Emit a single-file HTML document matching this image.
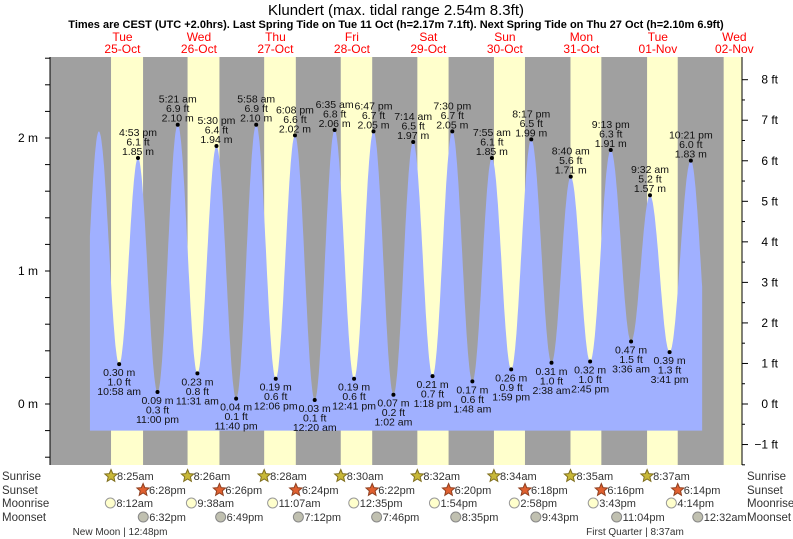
<!DOCTYPE html>
<html><head><meta charset="utf-8"><style>
body{margin:0;background:#fff;}
svg{display:block;font-family:"Liberation Sans",sans-serif;}
</style></head><body>
<svg id="c" width="793" height="539" viewBox="0 0 793 539">
<text x="396" y="15" text-anchor="middle" font-size="15">Klundert (max. tidal range 2.54m 8.3ft)</text>
<text x="396" y="28" text-anchor="middle" font-size="11" font-weight="bold">Times are CEST (UTC +2.0hrs). Last Spring Tide on Tue 11 Oct (h=2.17m 7.1ft). Next Spring Tide on Thu 27 Oct (h=2.10m 6.9ft)</text>
<g id="bg"></g><g id="tide"></g><g id="axes"></g><g id="labels"></g><g id="astro"></g>
</svg>
<script>
const dayNames=["Tue","Wed","Thu","Fri","Sat","Sun","Mon","Tue","Wed"];
const dayDates=["25-Oct","26-Oct","27-Oct","28-Oct","29-Oct","30-Oct","31-Oct","01-Nov","02-Nov"];
const sunriseH=[8.417,8.433,8.467,8.5,8.533,8.567,8.583,8.617,8.65];
const sunsetH=[18.467,18.433,18.4,18.367,18.333,18.3,18.267,18.233,18.2];
const sunriseLbl=["8:25am","8:26am","8:28am","8:30am","8:32am","8:34am","8:35am","8:37am"];
const sunsetLbl=["6:28pm","6:26pm","6:24pm","6:22pm","6:20pm","6:18pm","6:16pm","6:14pm"];
const moonriseH=[8.2,9.633,11.117,12.583,13.9,14.967,15.717,16.233];
const moonriseLbl=["8:12am","9:38am","11:07am","12:35pm","1:54pm","2:58pm","3:43pm","4:14pm"];
const moonsetH=[18.533,18.817,19.2,19.767,20.583,21.717,23.067,24.533];
const moonsetLbl=["6:32pm","6:49pm","7:12pm","7:46pm","8:35pm","9:43pm","11:04pm","12:32am"];
const tideT=[-1.6,4.6,10.97,16.88,23.0,29.35,35.52,41.5,47.67,53.97,60.1,66.13,72.33,78.58,84.68,90.78,97.03,103.23,109.3,115.5,121.8,127.92,133.98,140.28,146.63,152.67,158.75,165.22,171.6,177.53,183.68,190.35,196.5];
const tideM=[0.2,2.05,0.30,1.85,0.09,2.10,0.23,1.94,0.04,2.10,0.19,2.02,0.03,2.06,0.19,2.05,0.07,1.97,0.21,2.05,0.17,1.85,0.26,1.99,0.31,1.71,0.32,1.91,0.47,1.57,0.39,1.83,0.3];
const tideFt=["","","1.0","6.1","0.3","6.9","0.8","6.4","0.1","6.9","0.6","6.6","0.1","6.8","0.6","6.7","0.2","6.5","0.7","6.7","0.6","6.1","0.9","6.5","1.0","5.6","1.0","6.3","1.5","5.2","1.3","6.0",""];
const tideLbl=["","","10:58 am","4:53 pm","11:00 pm","5:21 am","11:31 am","5:30 pm","11:40 pm","5:58 am","12:06 pm","6:08 pm","12:20 am","6:35 am","12:41 pm","6:47 pm","1:02 am","7:14 am","1:18 pm","7:30 pm","1:48 am","7:55 am","1:59 pm","8:17 pm","2:38 am","8:40 am","2:45 pm","9:13 pm","3:36 am","9:32 am","3:41 pm","10:21 pm",""];
const mTicks=[0,1,2];
const ftTicks=[-1,0,1,2,3,4,5,6,7,8];

const NS="http://www.w3.org/2000/svg";
const X0=84.2,PXH=3.187,Y0=404,PXM=133;
const PL=50,PR=742,PT=57,PB=465;
const x=h=>X0+h*PXH, y=m=>Y0-m*PXM;
function mk(tag,attrs,parent,txt){const e=document.createElementNS(NS,tag);for(const k in attrs)e.setAttribute(k,attrs[k]);if(txt!==undefined)e.textContent=txt;parent.appendChild(e);return e;}
const bg=document.getElementById('bg'),tide=document.getElementById('tide'),axes=document.getElementById('axes'),labels=document.getElementById('labels'),astro=document.getElementById('astro');

let r=mk('rect',{x:PL,y:PT,width:PR-PL,height:PB-PT,fill:'#a0a0a0'},bg);


for(let d=0;d<9;d++){
  const a=Math.max(PL,x(d*24+sunriseH[d])),b=Math.min(PR,x(d*24+sunsetH[d]));
  if(b>a){const e=mk('rect',{x:a,y:PT,width:b-a,height:PB-PT,fill:'#ffffcc'},bg);
  
  }
  const cx=x(d*24+12);
  const t1=mk('text',{x:cx,y:41,'text-anchor':'middle','font-size':12,fill:'#ff0000'},labels,dayNames[d]);
  
  
  const t2=mk('text',{x:cx,y:53,'text-anchor':'middle','font-size':12,fill:'#ff0000'},labels,dayDates[d]);
  
  
}
const tS=1.8,tE=193.9;
function hAt(t){for(let i=0;i<tideT.length-1;i++){if(t>=tideT[i]&&t<=tideT[i+1]){const f=(t-tideT[i])/(tideT[i+1]-tideT[i]);return tideM[i]+(tideM[i+1]-tideM[i])*(1-Math.cos(Math.PI*f))/2;}}return 0;}
let d=`M${x(tS)},${y(-0.2)}`;
for(let t=tS;t<=tE;t+=0.2)d+=` L${x(t).toFixed(1)},${y(hAt(t)).toFixed(1)}`;
d+=` L${x(tE)},${y(hAt(tE))} L${x(tE)},${y(-0.2)} Z`;
const p=mk('path',{d:d,fill:'#a0b0ff'},tide);


for(let i=2;i<tideT.length-1;i++){
  const cx=x(tideT[i]),cy=y(tideM[i]);
  const dot=mk('circle',{cx:cx,cy:cy,r:2,fill:'#000'},tide);
  
  
  const high=tideM[i]>1;
  const g=mk('g',{'font-size':10.5,'text-anchor':'middle',fill:'#111'},labels);
  
  
  const lines=high?[tideLbl[i],tideFt[i]+" ft",tideM[i].toFixed(2)+" m"]:[tideM[i].toFixed(2)+" m",tideFt[i]+" ft",tideLbl[i]];
  lines.forEach((s,k)=>{const yy=high?cy-3-(2-k)*9.5:cy+12+k*9.5;mk('text',{x:cx,y:yy},g,s);});
}
let al=mk('line',{x1:PL,y1:PT,x2:PL,y2:PB,stroke:'#000','stroke-width':1},axes);


let ar=mk('line',{x1:PR,y1:PT,x2:PR,y2:PB,stroke:'#000','stroke-width':1},axes);


for(let v=-0.4;v<=2.61;v+=0.2){mk('line',{x1:PL-5,y1:y(v),x2:PL,y2:y(v),stroke:'#000'},axes);}
mTicks.forEach(v=>{const t=mk('text',{x:38,y:y(v)+4,'text-anchor':'end','font-size':12},axes,v+" m");

});
for(let v=-1.5;v<=8.01;v+=0.5){const yy=y(v*0.3048);if(yy<PT)continue;mk('line',{x1:PR,y1:yy,x2:PR+(v%1===0?6:3),y2:yy,stroke:'#000'},axes);}
ftTicks.forEach(v=>{const t=mk('text',{x:778,y:y(v*0.3048)+4,'text-anchor':'end','font-size':12},axes,(v<0?"\u2212"+(-v):v)+" ft");

});
const rows=[["Sunrise",480],["Sunset",494],["Moonrise",507],["Moonset",521]];
rows.forEach(([n,yy])=>{
  const a=mk('text',{x:2,y:yy,'font-size':11.5,fill:'#333'},astro,n);
  
  
  const b=mk('text',{x:747,y:yy,'font-size':11.5,fill:'#333'},astro,n);
  
  
});
function star(cx,cy,fill,stroke){let pts=[];for(let k=0;k<10;k++){const rr=k%2?3:6.5,a=-Math.PI/2+k*Math.PI/5;pts.push((cx+rr*Math.cos(a)).toFixed(1)+","+(cy+rr*Math.sin(a)).toFixed(1));}return mk('polygon',{points:pts.join(' '),fill:fill,stroke:stroke,'stroke-width':1},astro);}
for(let i=0;i<8;i++){
  let cx=x(i*24+sunriseH[i]);
  let s=star(cx,476,'#c8b838','#807020');
  
  
  let t=mk('text',{x:cx+6,y:480,'font-size':11,fill:'#333'},astro,sunriseLbl[i]);
  
  
  cx=x(i*24+sunsetH[i]);
  s=star(cx,490,'#e06030','#904020');
  
  
  t=mk('text',{x:cx+6,y:494,'font-size':11,fill:'#333'},astro,sunsetLbl[i]);
  
  
  cx=x(i*24+moonriseH[i]);
  let c=mk('circle',{cx:cx,cy:503,r:5,fill:'#ffffcc',stroke:'#999'},astro);
  
  
  t=mk('text',{x:cx+6,y:507,'font-size':11,fill:'#333'},astro,moonriseLbl[i]);
  
  
  cx=x(i*24+moonsetH[i]);
  c=mk('circle',{cx:cx,cy:517,r:5,fill:'#c0c0b0',stroke:'#888'},astro);
  
  
  t=mk('text',{x:cx+6,y:521,'font-size':11,fill:'#333'},astro,moonsetLbl[i]);
  
  
}
let m1=mk('text',{x:120,y:535,'text-anchor':'middle','font-size':10,fill:'#333'},astro,"New Moon | 12:48pm");


let m2=mk('text',{x:635,y:535,'text-anchor':'middle','font-size':10,fill:'#333'},astro,"First Quarter | 8:37am");


</script>
</body></html>
